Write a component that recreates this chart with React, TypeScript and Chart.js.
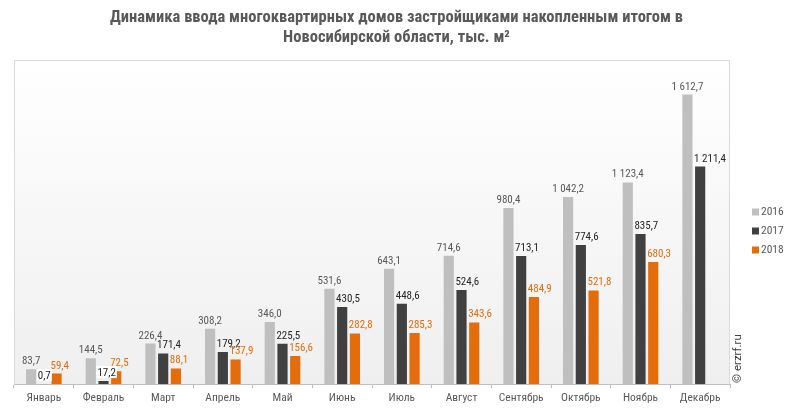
import React, { useEffect, useRef } from "react";
import { Chart, registerables } from "chart.js";

Chart.register(...registerables);

const titleLines = [
  "Динамика ввода многоквартирных домов застройщиками накопленным итогом в",
  "Новосибирской области, тыс. м²",
];
const months = ["Январь", "Февраль", "Март", "Апрель", "Май", "Июнь", "Июль", "Август", "Сентябрь", "Октябрь", "Ноябрь", "Декабрь"];
const seriesNames = ["2016", "2017", "2018"];
const values2016 = [83.7, 144.5, 226.4, 308.2, 346.0, 531.6, 643.1, 714.6, 980.4, 1042.2, 1123.4, 1612.7];
const values2017 = [0.7, 17.2, 171.4, 179.2, 225.5, 430.5, 448.6, 524.6, 713.1, 774.6, 835.7, 1211.4];
const values2018 = [59.4, 72.5, 88.1, 137.9, 156.6, 282.8, 285.3, 343.6, 484.9, 521.8, 680.3, null];
const barColors = ["#bfbfbf", "#404040", "#e46c0a"];
const labelColors = ["#595959", "#262626", "#e46c0a"];
const watermark = "© erzrf.ru";

const FONT = "Roboto, 'Liberation Sans', sans-serif";
const NARROW = "'Liberation Sans Narrow', 'Roboto Condensed', 'DejaVu Sans Condensed', Roboto";
const TITLE_FONT = "bold 16.5px 'Roboto Condensed', 'Liberation Sans Narrow', 'DejaVu Sans Condensed', Roboto";

function fmt(v: number): string {
  const [i, d] = v.toFixed(1).split(".");
  const withSpaces = i.replace(/\B(?=(\d{3})+(?!\d))/g, " ");
  return withSpaces + "," + d;
}

const decorPlugin = {
  id: "decor",
  beforeDraw(chart: any) {
    const { ctx, chartArea: a, width } = chart;
    ctx.save();
    // title
    ctx.font = TITLE_FONT;
    ctx.fillStyle = "#595959";
    ctx.textAlign = "center";
    ctx.textBaseline = "middle";
    titleLines.forEach((t, i) => ctx.fillText(t, width / 2, 18 + i * 20));
    // plot background
    const g = ctx.createLinearGradient(0, a.top, 0, a.bottom);
    g.addColorStop(0, "#ffffff");
    g.addColorStop(1, "#efefef");
    ctx.fillStyle = g;
    ctx.fillRect(a.left, a.top, a.right - a.left, a.bottom - a.top);
    ctx.strokeStyle = "#d9d9d9";
    ctx.lineWidth = 1;
    ctx.beginPath();
    ctx.moveTo(a.left + 0.5, a.bottom);
    ctx.lineTo(a.left + 0.5, a.top + 0.5);
    ctx.lineTo(a.right - 0.5, a.top + 0.5);
    ctx.lineTo(a.right - 0.5, a.bottom);
    ctx.stroke();
    ctx.restore();
  },
  afterDatasetsDraw(chart: any) {
    const { ctx } = chart;
    ctx.save();
    ctx.font = "11px " + NARROW;
    ctx.textBaseline = "alphabetic";
    chart.data.datasets.forEach((ds: any, di: number) => {
      const meta = chart.getDatasetMeta(di);
      meta.data.forEach((bar: any, i: number) => {
        const v = ds.data[i];
        if (v === null || v === undefined) return;
        const txt = fmt(v);
        const y = bar.y - 5;
        const w = ctx.measureText(txt).width;
        const x = di === 0 ? bar.x - w / 2 : bar.x - bar.width / 2 - 1;
        if (di === 1 && v < 50) {
          ctx.fillStyle = "#ffffff";
          ctx.fillRect(x - 1, y - 10, w + 2, 12);
        }
        ctx.textAlign = "left";
        ctx.fillStyle = labelColors[di];
        ctx.fillText(txt, x, y);
      });
    });
    // legend
    ctx.font = "11.5px " + NARROW;
    ctx.textAlign = "left";
    ctx.textBaseline = "middle";
    seriesNames.forEach((n, i) => {
      const y = 212 + i * 19;
      ctx.fillStyle = barColors[i];
      ctx.fillRect(752, y - 3.5, 7, 7);
      ctx.fillStyle = "#595959";
      ctx.fillText(n, 761, y + 0.5);
    });
    // watermark
    ctx.save();
    ctx.translate(738, 383);
    ctx.rotate(-Math.PI / 2);
    ctx.font = "11.5px " + FONT;
    ctx.fillStyle = "#404040";
    ctx.textAlign = "left";
    ctx.textBaseline = "middle";
    ctx.fillText(watermark, 0, 0);
    ctx.restore();
    ctx.restore();
  },
};

export default function App() {
  const ref = useRef<HTMLCanvasElement | null>(null);
  useEffect(() => {
    if (!ref.current) return;
    const chart = new Chart(ref.current, {
      type: "bar",
      data: {
        labels: months,
        datasets: [values2016, values2017, values2018].map((d, i) => ({
          label: seriesNames[i],
          data: d,
          backgroundColor: barColors[i],
          borderWidth: 0,
          categoryPercentage: 0.64,
          barPercentage: 0.8,
        })),
      },
      options: {
        responsive: false,
        animation: false,
        layout: { padding: { left: 14, right: 63, top: 60, bottom: 7 } },
        plugins: {
          legend: { display: false },
          tooltip: { enabled: false },
          title: { display: false },
        },
        scales: {
          x: {
            offset: true,
            grid: { display: true, drawOnChartArea: false, drawTicks: true, tickLength: 4, color: "#bfbfbf", offset: true },
            border: { display: true, color: "#bfbfbf" },
            ticks: { color: "#595959", font: { family: NARROW, size: 11.5 }, padding: 3, maxRotation: 0, autoSkip: false },
          },
          y: {
            display: false,
            min: 0,
            max: 1805,
          },
        },
      },
      plugins: [decorPlugin],
    });
    return () => chart.destroy();
  }, []);
  return (
    <div style={{ position: "fixed", left: 0, top: 0, width: 793, height: 415, background: "#fff" }}>
      <canvas ref={ref} width={793} height={415} />
    </div>
  );
}
